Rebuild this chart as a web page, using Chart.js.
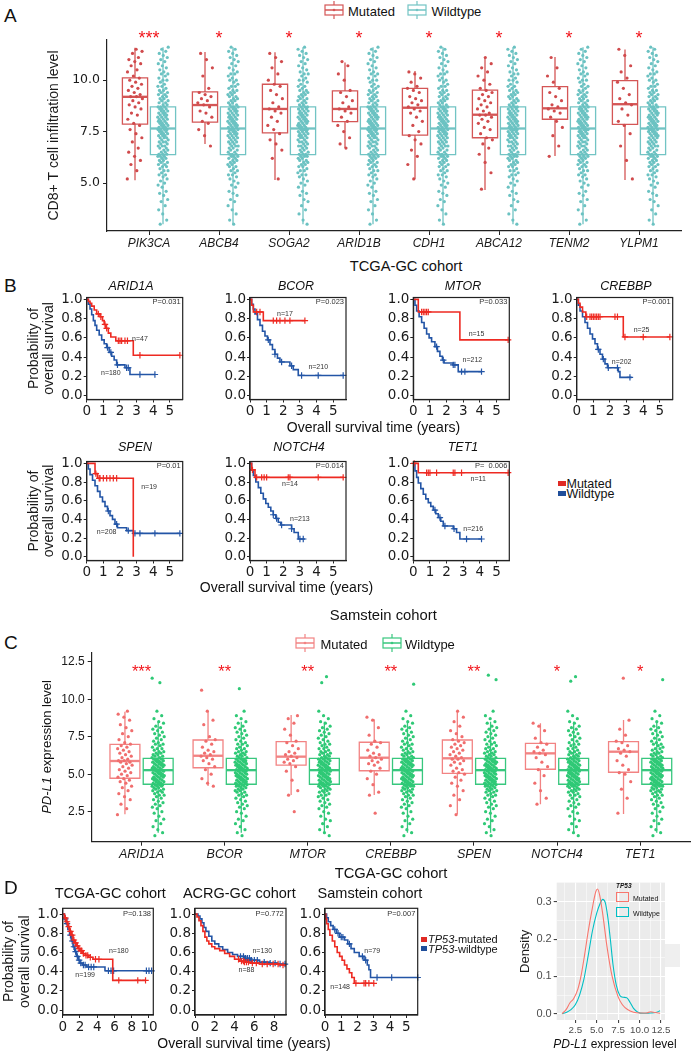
<!DOCTYPE html>
<html>
<head>
<meta charset="utf-8">
<script src="https://cdn.jsdelivr.net/npm/chart.js@4.4.1/dist/chart.umd.min.js"></script>
<style>
  body { margin: 0; background: #fff; }
  #fig { position: relative; width: 694px; height: 1052px; overflow: hidden; font-family: "Liberation Sans", Arial, sans-serif; color: #111; }
  .t { position: absolute; white-space: nowrap; line-height: 1; }
  canvas { position: absolute; }
</style>
</head>
<body>
<div id="fig"></div>
<script>
// ---------- panel A: CD8+ T cell infiltration, TCGA-GC ----------
const genesA = ['PIK3CA', 'ABCB4', 'SOGA2', 'ARID1B', 'CDH1', 'ABCA12', 'TENM2', 'YLPM1'];
const starsA = ['***', '*', '*', '*', '*', '*', '*', '*'];
// [lower whisker, Q1, median, Q3, upper whisker]
const boxA_mut = [
  [5.14, 7.86, 9.19, 10.11, 11.57], [6.9, 7.96, 8.79, 9.43, 11.37], [5.15, 7.44, 8.6, 9.8, 11.35],
  [6.7, 7.98, 8.6, 9.48, 10.86], [5.19, 7.33, 8.66, 9.6, 10.44], [4.66, 7.2, 8.32, 9.51, 11.13],
  [6.31, 8.1, 8.63, 9.68, 11.13], [5.15, 7.85, 8.83, 9.98, 11.49]
];
const boxA_wt = [3.0, 6.38, 7.65, 8.7, 11.6];
const ptsA_mut = [
  [5.2, 5.6, 5.9, 6.1, 6.3, 6.5, 6.7, 7.0, 7.2, 7.4, 7.6, 7.8, 7.9, 8.1, 8.3, 8.4, 8.6, 8.7, 8.8, 8.9, 9.0, 9.1, 9.2, 9.2, 9.3, 9.4, 9.5, 9.6, 9.7, 9.8, 9.9, 10.0, 10.1, 10.2, 10.4, 10.5, 10.7, 10.8, 10.9, 11.0, 11.1, 11.3, 11.4, 11.5],
  [6.8, 7.3, 7.6, 7.9, 8.0, 8.2, 8.4, 8.5, 8.7, 8.8, 8.9, 9.0, 9.1, 9.2, 9.3, 9.4, 9.6, 10.2, 10.6, 11.0, 11.3],
  [5.2, 6.2, 6.6, 6.9, 7.1, 7.4, 7.6, 7.8, 8.0, 8.2, 8.4, 8.5, 8.6, 8.7, 8.9, 9.1, 9.3, 9.5, 9.7, 9.8, 10.0, 10.3, 10.6, 10.9, 11.1, 11.3],
  [6.7, 6.9, 7.2, 7.5, 7.8, 8.0, 8.2, 8.4, 8.5, 8.6, 8.7, 8.9, 9.0, 9.2, 9.4, 9.5, 10.0, 10.3, 10.7, 10.9],
  [5.2, 5.9, 6.3, 6.6, 6.9, 7.1, 7.3, 7.5, 7.8, 8.0, 8.2, 8.4, 8.5, 8.6, 8.7, 8.8, 8.9, 9.0, 9.1, 9.2, 9.4, 9.5, 9.6, 9.7, 9.9, 10.1, 10.3, 10.4],
  [4.7, 5.5, 6.0, 6.4, 6.7, 6.9, 7.1, 7.2, 7.4, 7.6, 7.7, 7.9, 8.0, 8.1, 8.2, 8.3, 8.3, 8.4, 8.5, 8.6, 8.7, 8.8, 8.9, 9.0, 9.1, 9.2, 9.3, 9.4, 9.5, 9.6, 9.8, 10.0, 10.2, 10.4, 10.6, 10.8, 11.1],
  [6.3, 6.8, 7.3, 7.7, 8.0, 8.2, 8.4, 8.5, 8.6, 8.7, 8.8, 9.0, 9.2, 9.4, 9.6, 9.9, 10.2, 10.6, 11.1],
  [5.2, 6.1, 6.8, 7.4, 7.8, 8.0, 8.3, 8.6, 8.8, 8.9, 9.1, 9.3, 9.6, 9.9, 10.1, 10.4, 10.7, 11.2, 11.5]
];
// wildtype group is nearly the whole cohort for every gene, read once
const ptsA_wt = [
  3.0, 3.2, 3.5, 3.7, 3.9, 4.1, 4.2, 4.4, 4.5, 4.6, 4.8, 4.9, 5.0, 5.1, 5.2, 5.3, 5.4, 5.4, 5.5, 5.6, 5.6, 5.7, 5.8, 5.8, 5.9, 5.9, 6.0, 6.0, 6.1, 6.1, 6.2, 6.2, 6.3, 6.3, 6.3, 6.4, 6.4, 6.4,
  6.5, 6.5, 6.6, 6.6, 6.7, 6.7, 6.8, 6.8, 6.8, 6.9, 6.9, 7.0, 7.0, 7.0, 7.1, 7.1, 7.2, 7.2, 7.2, 7.3, 7.3, 7.3, 7.4, 7.4, 7.4, 7.5, 7.5, 7.5, 7.6, 7.6, 7.6, 7.6, 7.7, 7.7,
  7.7, 7.8, 7.8, 7.8, 7.9, 7.9, 7.9, 8.0, 8.0, 8.0, 8.1, 8.1, 8.1, 8.2, 8.2, 8.2, 8.3, 8.3, 8.3, 8.4, 8.4, 8.4, 8.5, 8.5, 8.5, 8.6, 8.6, 8.6, 8.7, 8.7, 8.7,
  8.8, 8.8, 8.9, 8.9, 9.0, 9.0, 9.1, 9.1, 9.2, 9.2, 9.3, 9.3, 9.4, 9.4, 9.5, 9.5, 9.6, 9.7, 9.7, 9.8, 9.9, 10.0, 10.0, 10.1, 10.2, 10.3, 10.3, 10.4, 10.5, 10.6, 10.7, 10.8, 10.9, 11.0, 11.1, 11.2, 11.3, 11.4, 11.5, 11.6
];

// ---------- panel C: PD-L1 expression, TCGA-GC ----------
const genesC = ['ARID1A', 'BCOR', 'MTOR', 'CREBBP', 'SPEN', 'NOTCH4', 'TET1'];
const starsC = ['***', '**', '**', '**', '**', '*', '*'];
const boxC_mut = [
  [2.33, 4.73, 5.88, 6.99, 9.17], [4.21, 5.43, 6.23, 7.28, 9.23], [3.61, 5.61, 6.17, 7.17, 8.95],
  [3.61, 5.23, 6.1, 7.13, 8.66], [2.33, 5.06, 6.06, 7.28, 9.23], [2.99, 5.33, 6.39, 7.06, 8.4],
  [2.35, 5.13, 6.5, 7.17, 8.61]
];
const boxC_wt = [1.1, 4.33, 5.27, 6.06, 8.5];
const ptsC_mut = [
  [2.3, 2.7, 3.0, 3.3, 3.5, 3.7, 3.9, 4.1, 4.2, 4.4, 4.5, 4.6, 4.7, 4.8, 4.9, 5.0, 5.1, 5.2, 5.3, 5.4, 5.5, 5.6, 5.7, 5.8, 5.8, 5.9, 5.9, 6.0, 6.1, 6.2, 6.3, 6.4, 6.5, 6.6, 6.7, 6.8, 6.9, 7.0, 7.1, 7.3, 7.5, 7.7, 7.9, 8.1, 8.3, 8.6, 8.8, 9.0, 9.2],
  [4.2, 4.4, 4.7, 5.0, 5.3, 5.5, 5.7, 5.9, 6.0, 6.1, 6.2, 6.3, 6.4, 6.5, 6.6, 6.8, 7.0, 7.2, 7.3, 7.5, 8.3, 8.6, 9.2, 10.6],
  [2.5, 3.6, 3.9, 4.6, 5.2, 5.5, 5.7, 5.8, 5.9, 6.0, 6.1, 6.2, 6.3, 6.4, 6.5, 6.7, 6.9, 7.1, 7.2, 7.6, 8.0, 8.4, 8.7, 8.9],
  [2.4, 3.6, 3.8, 4.3, 4.7, 5.0, 5.2, 5.4, 5.6, 5.7, 5.8, 5.9, 6.0, 6.1, 6.2, 6.3, 6.4, 6.6, 6.8, 7.0, 7.1, 7.2, 7.6, 8.1, 8.6, 8.8],
  [2.3, 2.9, 3.3, 3.6, 3.9, 4.2, 4.4, 4.6, 4.8, 5.0, 5.1, 5.2, 5.3, 5.4, 5.6, 5.7, 5.8, 5.9, 6.0, 6.0, 6.1, 6.2, 6.3, 6.4, 6.5, 6.6, 6.7, 6.8, 6.9, 7.0, 7.1, 7.2, 7.3, 7.5, 7.7, 7.9, 8.2, 8.5, 8.8, 9.2],
  [3.0, 3.4, 3.9, 4.4, 4.9, 5.3, 5.5, 5.8, 6.1, 6.3, 6.4, 6.5, 6.6, 6.8, 7.0, 7.1, 7.4, 7.9, 8.2, 8.4],
  [2.4, 3.4, 4.0, 4.5, 5.0, 5.1, 5.3, 5.6, 5.9, 6.2, 6.4, 6.5, 6.6, 6.7, 6.9, 7.1, 7.2, 7.6, 8.0, 8.6, 11.4]
];
const ptsC_wt = [
  0.9, 1.1, 1.3, 1.5, 1.7, 1.9, 2.0, 2.2, 2.4, 2.5, 2.7, 2.8, 2.9, 3.0, 3.1, 3.2, 3.3, 3.4, 3.5, 3.6, 3.6, 3.7, 3.8, 3.8, 3.9, 3.9, 4.0, 4.0, 4.1, 4.1, 4.2, 4.2, 4.2, 4.3, 4.3, 4.3,
  4.4, 4.4, 4.4, 4.5, 4.5, 4.5, 4.6, 4.6, 4.6, 4.7, 4.7, 4.7, 4.8, 4.8, 4.8, 4.9, 4.9, 4.9, 5.0, 5.0, 5.0, 5.1, 5.1, 5.1, 5.2, 5.2, 5.2, 5.3, 5.3,
  5.3, 5.4, 5.4, 5.4, 5.5, 5.5, 5.5, 5.6, 5.6, 5.6, 5.7, 5.7, 5.7, 5.8, 5.8, 5.8, 5.9, 5.9, 5.9, 6.0, 6.0, 6.0, 6.1,
  6.1, 6.2, 6.2, 6.3, 6.3, 6.4, 6.4, 6.5, 6.5, 6.6, 6.7, 6.7, 6.8, 6.9, 7.0, 7.0, 7.1, 7.2, 7.3, 7.4, 7.5, 7.6, 7.7, 7.8, 7.9, 8.0, 8.1, 8.2, 8.4, 8.5, 8.7, 8.9, 9.2
];
const ptsC_wtHigh = [[11.4, 11.1], [10.7], [11.5, 11.1], [11.0], [11.6, 11.3], [11.5, 11.2], [11.3]];

// ---------- panel B: Kaplan-Meier, TCGA-GC / Samstein ([time, survival] steps, censor times) ----------
const arid1aMut = [[0, 1], [0.1, 0.98], [0.2, 0.96], [0.3, 0.93], [0.45, 0.89], [0.6, 0.85], [0.8, 0.82], [0.95, 0.78], [1.05, 0.74], [1.15, 0.7], [1.3, 0.65], [1.45, 0.61], [1.75, 0.57], [2.8, 0.42], [5.6, 0.42]];
const arid1aMutCens = [0.7, 0.85, 1.1, 1.2, 1.9, 2.0, 2.1, 2.3, 2.45, 3.2, 5.6];
const arid1aWt = [[0, 1], [0.1, 0.95], [0.2, 0.9], [0.3, 0.84], [0.4, 0.78], [0.5, 0.73], [0.6, 0.68], [0.75, 0.63], [0.9, 0.58], [1.05, 0.54], [1.2, 0.5], [1.35, 0.45], [1.5, 0.41], [1.65, 0.37], [1.8, 0.32], [2.3, 0.29], [2.6, 0.22], [4.1, 0.22]];
const arid1aWtCens = [1.25, 1.45, 1.85, 2.4, 2.5, 3.2, 4.1];
const bcorMut = [[0, 1], [0.1, 0.94], [0.2, 0.87], [0.8, 0.78], [3.3, 0.78]];
const bcorMutCens = [0.4, 0.6, 1.4, 1.6, 1.8, 2.1, 2.4, 3.3];
const bcorWt = [[0, 1], [0.1, 0.95], [0.2, 0.9], [0.3, 0.85], [0.45, 0.79], [0.6, 0.73], [0.75, 0.67], [0.9, 0.62], [1.05, 0.58], [1.2, 0.53], [1.35, 0.48], [1.5, 0.43], [1.65, 0.39], [1.8, 0.35], [2.4, 0.31], [2.6, 0.27], [2.9, 0.21], [5.6, 0.21]];
const bcorWtCens = [1.1, 1.5, 1.9, 2.5, 3.1, 4.1, 5.6];
const mtorMut = [[0, 1], [0.3, 0.87], [2.8, 0.58], [5.7, 0.58]];
const mtorMutCens = [0.5, 0.6, 0.7, 0.8, 0.9, 5.7];
const mtorWt = [[0, 1], [0.1, 0.94], [0.2, 0.88], [0.35, 0.82], [0.5, 0.76], [0.65, 0.7], [0.8, 0.64], [0.95, 0.6], [1.1, 0.56], [1.3, 0.51], [1.45, 0.46], [1.6, 0.41], [1.75, 0.37], [1.85, 0.34], [2.4, 0.32], [2.7, 0.25], [4.1, 0.25]];
const mtorWtCens = [1.4, 1.8, 2.4, 2.5, 2.9, 3.1, 4.1];
const crebbpMut = [[0, 1], [0.1, 0.96], [0.2, 0.92], [0.35, 0.87], [0.55, 0.82], [2.8, 0.61], [5.6, 0.61]];
const crebbpMutCens = [0.6, 0.8, 0.9, 1.0, 1.1, 1.2, 1.3, 1.4, 2.3, 2.45, 2.9, 4.0, 5.6];
const crebbpWt = [[0, 1], [0.1, 0.94], [0.2, 0.88], [0.35, 0.82], [0.5, 0.76], [0.65, 0.7], [0.8, 0.64], [0.95, 0.59], [1.1, 0.54], [1.25, 0.48], [1.4, 0.43], [1.55, 0.38], [1.7, 0.33], [1.85, 0.29], [2.5, 0.25], [2.6, 0.19], [3.3, 0.19]];
const crebbpWtCens = [1.3, 1.6, 1.9, 2.45, 3.2];
const spenMut = [[0, 1], [0.5, 0.89], [0.65, 0.84], [2.8, 0]];
const spenMutCens = [0.55, 0.75, 0.8, 1.0, 1.2, 1.4, 1.6, 1.8];
const spenWt = [[0, 1], [0.1, 0.94], [0.2, 0.88], [0.35, 0.82], [0.5, 0.76], [0.65, 0.7], [0.8, 0.64], [0.95, 0.59], [1.1, 0.54], [1.25, 0.49], [1.4, 0.44], [1.55, 0.4], [1.7, 0.35], [1.85, 0.31], [2.4, 0.28], [2.8, 0.25], [5.6, 0.25]];
const spenWtCens = [1.3, 1.8, 2.5, 2.9, 3.2, 4.1, 5.6];
const notch4Mut = [[0, 1], [0.1, 0.93], [0.3, 0.85], [5.6, 0.85]];
const notch4MutCens = [0.15, 0.4, 0.7, 0.85, 1.0, 2.3, 2.4, 4.1, 5.6];
const notch4Wt = [[0, 1], [0.1, 0.93], [0.2, 0.87], [0.35, 0.8], [0.5, 0.74], [0.65, 0.68], [0.8, 0.62], [0.95, 0.57], [1.1, 0.53], [1.25, 0.49], [1.4, 0.45], [1.55, 0.41], [1.7, 0.37], [1.85, 0.34], [2.5, 0.3], [2.65, 0.26], [2.9, 0.19], [3.3, 0.19]];
const notch4WtCens = [1.4, 1.6, 1.9, 2.5, 3.0, 3.2];
const tet1Mut = [[0, 1], [0.3, 0.9], [5.7, 0.9]];
const tet1MutCens = [0.05, 0.8, 0.9, 1.0, 1.4, 2.4, 2.5, 2.9, 5.7];
const tet1Wt = [[0, 1], [0.1, 0.92], [0.2, 0.85], [0.3, 0.79], [0.45, 0.73], [0.6, 0.67], [0.75, 0.62], [0.9, 0.58], [1.05, 0.54], [1.2, 0.5], [1.35, 0.46], [1.5, 0.42], [1.65, 0.38], [1.8, 0.33], [2.4, 0.3], [2.6, 0.26], [2.8, 0.19], [4.1, 0.19]];
const tet1WtCens = [1.3, 1.6, 1.9, 2.45, 3.2, 4.1];

// ---------- panel D: TP53 Kaplan-Meier ----------
const tcgaMut = [[0, 1], [0.2, 0.96], [0.4, 0.92], [0.6, 0.87], [0.8, 0.82], [1.0, 0.78], [1.2, 0.73], [1.4, 0.7], [1.6, 0.67], [1.8, 0.64], [2.0, 0.62], [2.3, 0.59], [2.6, 0.57], [3.0, 0.55], [3.5, 0.53], [5.8, 0.31], [9.6, 0.31]];
const tcgaMutCens = [0.3, 0.5, 0.7, 0.9, 1.1, 1.3, 1.5, 1.7, 1.9, 2.1, 2.2, 2.4, 2.7, 2.9, 3.2, 3.8, 4.2, 6.5, 8.7, 9.6];
const tcgaWt = [[0, 1], [0.2, 0.95], [0.4, 0.9], [0.6, 0.84], [0.8, 0.78], [1.0, 0.72], [1.2, 0.66], [1.4, 0.61], [1.6, 0.56], [1.8, 0.52], [2.0, 0.49], [2.3, 0.47], [2.8, 0.45], [4.9, 0.41], [10.3, 0.41]];
const tcgaWtCens = [0.3, 0.5, 0.9, 1.1, 1.3, 1.5, 1.7, 1.9, 2.1, 2.4, 2.6, 3.0, 3.3, 3.6, 5.3, 5.6, 5.9, 9.7, 10.0, 10.3];
const acrgMut = [[0, 1], [0.2, 0.97], [0.4, 0.93], [0.6, 0.88], [0.8, 0.82], [1.0, 0.76], [1.2, 0.72], [1.4, 0.69], [1.7, 0.66], [2.0, 0.64], [2.5, 0.62], [3.0, 0.59], [3.5, 0.56], [4.0, 0.53], [4.5, 0.51], [5.0, 0.5], [5.6, 0.49], [6.5, 0.48], [8.5, 0.47], [9.2, 0.47]];
const acrgMutCens = [4.4, 4.7, 4.9, 5.0, 5.2, 5.4, 5.8, 6.2, 6.8, 7.3, 7.9, 8.4, 8.9];
const acrgWt = [[0, 1], [0.3, 0.98], [0.5, 0.95], [0.7, 0.91], [0.9, 0.86], [1.1, 0.82], [1.4, 0.77], [1.7, 0.72], [2.0, 0.69], [2.4, 0.66], [2.8, 0.63], [3.3, 0.6], [3.8, 0.58], [4.3, 0.56], [5.0, 0.54], [5.6, 0.52], [6.5, 0.5], [7.5, 0.49], [8.3, 0.48], [9.2, 0.48]];
const acrgWtCens = [4.6, 4.9, 5.1, 5.3, 5.5, 5.7, 6.0, 6.3, 7.0, 7.6, 8.1, 8.6, 9.1];
const samsMut = [[0, 1], [0.05, 0.95], [0.1, 0.9], [0.2, 0.84], [0.3, 0.78], [0.45, 0.72], [0.6, 0.66], [0.75, 0.6], [0.9, 0.56], [1.05, 0.52], [1.2, 0.47], [1.35, 0.43], [1.5, 0.39], [1.65, 0.34], [1.8, 0.28], [3.0, 0.28]];
const samsMutCens = [1.9, 2.4, 2.5, 2.7, 3.0];
const samsWt = [[0, 1], [0.1, 0.96], [0.2, 0.92], [0.35, 0.88], [0.5, 0.84], [0.7, 0.8], [0.9, 0.76], [1.2, 0.73], [1.4, 0.69], [1.6, 0.64], [1.8, 0.6], [2.1, 0.56], [2.4, 0.52], [2.6, 0.47], [2.7, 0.42], [2.8, 0.34], [5.7, 0.34]];
const samsWtCens = [0.6, 0.8, 1.0, 1.1, 1.5, 2.3, 2.5, 3.2, 4.1, 5.7];

// ---------- density of PD-L1 by TP53 status ([expression, density]) ----------
const densMut = [[0.95, 0], [1.4, 0.01], [1.9, 0.03], [2.3, 0.04], [2.8, 0.066], [3.2, 0.105], [3.6, 0.16], [4.0, 0.22], [4.5, 0.285], [4.9, 0.328], [5.1, 0.335], [5.35, 0.318], [5.7, 0.268], [6.2, 0.18], [6.8, 0.1], [7.5, 0.045], [8.0, 0.024], [8.6, 0.011], [9.3, 0.004], [10.0, 0.002], [10.8, 0.002], [11.3, 0.005], [11.8, 0.003], [12.4, 0.001]];
const densWt = [[0.95, 0], [1.5, 0.004], [2.0, 0.011], [2.5, 0.024], [3.0, 0.05], [3.5, 0.092], [4.0, 0.155], [4.5, 0.222], [5.0, 0.27], [5.4, 0.296], [5.7, 0.307], [6.0, 0.298], [6.3, 0.258], [6.6, 0.198], [6.9, 0.132], [7.3, 0.075], [7.7, 0.049], [8.1, 0.044], [8.5, 0.043], [8.9, 0.03], [9.3, 0.014], [9.8, 0.004], [10.5, 0.001], [11.3, 0.002], [11.9, 0.003], [12.4, 0.008]];

// ---------- colours ----------
const redA = '#D45656', tealA = '#72C4C4';
const pinkC = '#F28383', greenC = '#38C77E';
const kmRed = '#EE2A22', kmBlue = '#2355A6';
const starRed = '#F2161C';

Chart.defaults.font.family = '"Liberation Sans", Arial, sans-serif';
Chart.defaults.color = '#1a1a1a';
Chart.defaults.animation = false;
Chart.defaults.events = [];
Chart.defaults.plugins.legend.display = false;
Chart.defaults.plugins.tooltip.enabled = false;

const fig = document.getElementById('fig');

function txt(html, x, y, size, o = {}) {
  const d = document.createElement('div');
  d.className = 't';
  d.innerHTML = html;
  d.style.fontSize = size + 'px';
  d.style.left = x + 'px';
  d.style.top = y + 'px';
  const ax = o.left ? '0' : '-50%';
  d.style.transform = 'translate(' + ax + ',-50%)' + (o.rot ? ' rotate(-90deg)' : '');
  if (o.color) d.style.color = o.color;
  if (o.italic) d.style.fontStyle = 'italic';
  if (o.weight) d.style.fontWeight = o.weight;
  fig.appendChild(d);
}

function rect(x, y, w, h, style) {
  const d = document.createElement('div');
  d.style.cssText = 'position:absolute;left:' + x + 'px;top:' + y + 'px;width:' + w + 'px;height:' + h + 'px;' + style;
  fig.appendChild(d);
}

function boxKey(x, y, color) {
  const d = document.createElement('div');
  d.style.cssText = 'position:absolute;left:' + x + 'px;top:' + (y - 9) + 'px;width:20px;height:18px';
  d.innerHTML = '<svg width="20" height="18"><line x1="10" y1="0" x2="10" y2="18" stroke="' + color + '" stroke-width="1.2"/>' +
    '<rect x="1" y="4" width="18" height="10" fill="#fff" stroke="' + color + '" stroke-width="1.2"/>' +
    '<line x1="1" y1="9" x2="19" y2="9" stroke="' + color + '" stroke-width="1.5"/><circle cx="10" cy="9" r="1.3" fill="' + color + '"/></svg>';
  fig.appendChild(d);
}

// canvas placed so that the chart area lands on plot box [l, t, r, b]
function frameFor(box, yw, padT, padR, xh) {
  const cl = Math.round(box[0] - yw), ct = Math.round(box[1] - padT);
  const cw = Math.round(box[2] + padR) - cl, chh = Math.round(box[3] + xh) - ct;
  const c = document.createElement('canvas');
  c.width = cw; c.height = chh;
  c.style.left = cl + 'px'; c.style.top = ct + 'px';
  c.style.width = cw + 'px'; c.style.height = chh + 'px';
  fig.appendChild(c);
  return { canvas: c, left: cl, yw: box[0] - cl, padT: box[1] - ct, padR: cl + cw - box[2], xh: ct + chh - box[3] };
}

const setTicks = vals => scale => { scale.ticks = vals.map(v => ({ value: v })); };

function axis(font, tl, pad, ticks, cb) {
  return {
    type: 'linear',
    grid: { display: true, drawOnChartArea: false, drawTicks: true, tickLength: tl, color: '#222' },
    border: { display: true, color: '#222', width: 1.2 },
    ticks: { font, color: '#1a1a1a', padding: pad, autoSkip: false, maxRotation: 0, callback: cb },
    afterBuildTicks: setTicks(ticks)
  };
}

const jit = (j, k) => (((j + k) * 0.618034) % 1) * 2 - 1;

function boxPlugin(groups, half, lw, stars, starFont, starY) {
  return {
    id: 'boxes',
    beforeDatasetsDraw(chart) {
      const { ctx, scales: { x, y } } = chart;
      ctx.save();
      groups.forEach(g => {
        g.stats.forEach((s, i) => {
          const cx = x.getPixelForValue(i + 1 + g.shift);
          const hw = x.getPixelForValue(i + 1 + g.shift + half) - cx;
          const [lo, q1, md, q3, hi] = s.map(v => y.getPixelForValue(v));
          ctx.strokeStyle = g.color;
          ctx.lineWidth = lw;
          ctx.beginPath();
          ctx.moveTo(cx, lo); ctx.lineTo(cx, q1);
          ctx.moveTo(cx, q3); ctx.lineTo(cx, hi);
          ctx.rect(cx - hw, q3, 2 * hw, q1 - q3);
          ctx.stroke();
          ctx.lineWidth = lw * 1.8;
          ctx.beginPath(); ctx.moveTo(cx - hw, md); ctx.lineTo(cx + hw, md); ctx.stroke();
        });
      });
      ctx.fillStyle = starRed;
      ctx.font = starFont;
      ctx.textAlign = 'center';
      ctx.textBaseline = 'alphabetic';
      stars.forEach((s, i) => ctx.fillText(s, x.getPixelForValue(i + 1), y.getPixelForValue(starY)));
      ctx.restore();
    }
  };
}

function boxChart(o) {
  const f = frameFor(o.box, o.yw, 16, o.padR, 22);
  const datasets = [
    { data: o.genes.flatMap((g, i) => o.mutPts[i].map((v, j) => ({ x: i + 1 - o.shift + jit(j, i * 3) * o.mutSpread, y: v }))), backgroundColor: o.mutDot, pointRadius: 1.6, borderWidth: 0 },
    { data: o.genes.flatMap((g, i) => o.wtPts.concat(o.wtHigh ? o.wtHigh[i] : []).map((v, j) => ({ x: i + 1 + o.shift + jit(j, i * 7 + 2) * o.wtSpread, y: v }))), backgroundColor: o.wtDot, pointRadius: 1.6, borderWidth: 0 }
  ];
  const xs = axis({ size: o.xFont, style: 'italic' }, 4, 1, o.genes.map((g, i) => i + 1), v => o.genes[v - 1]);
  xs.min = 0.4; xs.max = o.genes.length + 0.6;
  xs.afterFit = s => { s.height = f.xh; };
  const ys = axis(o.yFont, 4, 3, o.yTicks, v => v.toFixed(1));
  ys.min = o.yRange[0]; ys.max = o.yRange[1];
  ys.afterFit = s => { s.width = f.yw; };
  if (o.yTitle) ys.title = { display: true, text: o.yTitle, font: { size: 14, lineHeight: 1.1 }, color: '#1a1a1a', padding: { top: o.yTitleX - f.left - 7.7, bottom: 0 } };
  new Chart(f.canvas, {
    type: 'scatter',
    data: { datasets },
    options: {
      responsive: false, devicePixelRatio: 1,
      layout: { padding: { top: f.padT, right: f.padR, left: 0, bottom: 0 } },
      scales: { x: xs, y: ys }
    },
    plugins: [boxPlugin([{ stats: o.mutBox, shift: -o.shift, color: o.mutCol }, { stats: o.genes.map(() => o.wtBox), shift: o.shift, color: o.wtCol }], 0.18, 1.3, o.stars, o.starFont, o.starY)]
  });
}

// ---- Kaplan-Meier ----
function survAt(steps, t) {
  let s = steps[0][1];
  steps.forEach(p => { if (p[0] <= t) s = p[1]; });
  return s;
}

const framePlugin = {
  id: 'frame',
  afterDatasetsDraw(chart) {
    const a = chart.chartArea, ctx = chart.ctx;
    ctx.save();
    ctx.strokeStyle = '#222'; ctx.lineWidth = 1.2;
    ctx.strokeRect(a.left, a.top, a.right - a.left, a.bottom - a.top);
    ctx.restore();
  }
};

function notesPlugin(notes) {
  return {
    id: 'notes',
    afterDatasetsDraw(chart) {
      const { ctx, scales: { x, y } } = chart;
      ctx.save();
      ctx.fillStyle = '#333';
      ctx.textBaseline = 'middle';
      notes.forEach(n => {
        ctx.font = n.size + 'px "Liberation Sans", Arial';
        ctx.textAlign = n.align || 'center';
        ctx.fillText(n.text, x.getPixelForValue(n.x), y.getPixelForValue(n.y));
      });
      ctx.restore();
    }
  };
}

function kmChart(o) {
  const f = frameFor(o.box, o.yTitleX != null ? o.box[0] : 40, 12, 10, 22);
  const datasets = [];
  o.curves.forEach(cv => {
    datasets.push({ data: cv.steps.map(p => ({ x: p[0], y: p[1] })), stepped: 'before', borderColor: cv.color, borderWidth: 1.6, pointRadius: 0, fill: false });
    datasets.push({ data: cv.cens.map(t => ({ x: t, y: survAt(cv.steps, t) })), showLine: false, pointStyle: 'cross', pointRadius: 3.2, borderColor: cv.color, borderWidth: 1.2, clip: 6 });
  });
  const tickFont = { family: '"DejaVu Sans", sans-serif', size: 13.5 };
  const xs = axis(tickFont, 3, 1, o.xTicks, v => String(v));
  xs.min = 0; xs.max = o.xmax;
  xs.afterFit = s => { s.height = f.xh; };
  const ys = axis(tickFont, 3, 1, [0, 0.2, 0.4, 0.6, 0.8, 1], v => v.toFixed(1));
  ys.min = o.yRange[0]; ys.max = o.yRange[1];
  ys.afterFit = s => { s.width = f.yw; };
  if (o.yTitleX != null) ys.title = { display: true, text: ['Probability of', 'overall survival'], font: { size: 14, lineHeight: 1.1 }, color: '#1a1a1a', padding: { top: o.yTitleX - f.left - 7.7, bottom: 0 } };
  new Chart(f.canvas, {
    type: 'line',
    data: { datasets },
    options: {
      responsive: false, devicePixelRatio: 1,
      layout: { padding: { top: f.padT, right: f.padR, left: 0, bottom: 0 } },
      scales: { x: xs, y: ys }
    },
    plugins: [framePlugin, notesPlugin(o.notes)]
  });
}

// ================= panel A =================
txt('A', 4, 14.5, 19, { left: true });
boxKey(324, 10, redA); txt('Mutated', 348, 10.5, 13, { left: true });
boxKey(407, 10, tealA); txt('Wildtype', 431.5, 10.5, 13, { left: true });
boxChart({
  box: [107, 40, 681, 231], yw: 107, padR: 13, genes: genesA, stars: starsA,
  mutBox: boxA_mut, wtBox: boxA_wt, mutPts: ptsA_mut, wtPts: ptsA_wt,
  mutCol: redA, wtCol: tealA, mutDot: '#D04A4C', wtDot: '#6BC2C2', shift: 0.2, mutSpread: 0.11, wtSpread: 0.075,
  yRange: [2.67, 11.95], yTicks: [5, 7.5, 10], yFont: { family: '"DejaVu Sans", sans-serif', size: 12.5 }, xFont: 12,
  yTitle: 'CD8+ T cell infiltration level', yTitleX: 54,
  starFont: '18px "Liberation Sans", Arial', starY: 11.75
});
txt('TCGA-GC cohort', 406, 266, 14.7);

// ================= panel B =================
txt('B', 4, 285, 19, { left: true });
const kmB = [
  { title: 'ARID1A', tx: 131, ty: 286, box: [86.7, 297.5, 182.7, 399.5], mut: arid1aMut, mc: arid1aMutCens, wt: arid1aWt, wc: arid1aWtCens, p: 'P=0.031', n1: [3.2, 0.59, 'n=47'], n2: [1.45, 0.23, 'n=180'], yTitleX: 34 },
  { title: 'BCOR', tx: 296, ty: 286, box: [250, 297.5, 346, 399.5], mut: bcorMut, mc: bcorMutCens, wt: bcorWt, wc: bcorWtCens, p: 'P=0.023', n1: [2.1, 0.85, 'n=17'], n2: [4.1, 0.3, 'n=210'] },
  { title: 'MTOR', tx: 463, ty: 286, box: [413.3, 297.5, 509.3, 399.5], mut: mtorMut, mc: mtorMutCens, wt: mtorWt, wc: mtorWtCens, p: 'P=0.033', n1: [3.8, 0.64, 'n=15'], n2: [3.55, 0.375, 'n=212'] },
  { title: 'CREBBP', tx: 626, ty: 286, box: [576.7, 297.5, 672.7, 399.5], mut: crebbpMut, mc: crebbpMutCens, wt: crebbpWt, wc: crebbpWtCens, p: 'P=0.001', n1: [3.9, 0.68, 'n=25'], n2: [2.7, 0.35, 'n=202'] },
  { title: 'SPEN', tx: 135, ty: 447, box: [86.7, 461.5, 182.7, 560.5], mut: spenMut, mc: spenMutCens, wt: spenWt, wc: spenWtCens, p: 'P=0.01', n1: [3.75, 0.75, 'n=19'], n2: [1.2, 0.26, 'n=208'], yTitleX: 34 },
  { title: 'NOTCH4', tx: 299, ty: 447, box: [250, 461.5, 346, 560.5], mut: notch4Mut, mc: notch4MutCens, wt: notch4Wt, wc: notch4WtCens, p: 'P=0.014', n1: [2.4, 0.775, 'n=14'], n2: [3.0, 0.4, 'n=213'] },
  { title: 'TET1', tx: 463, ty: 447, box: [413.3, 461.5, 509.3, 560.5], mut: tet1Mut, mc: tet1MutCens, wt: tet1Wt, wc: tet1WtCens, p: 'P=  0.006', n1: [3.9, 0.83, 'n=11'], n2: [3.6, 0.3, 'n=216'] }
];
kmB.forEach(k => {
  kmChart({
    box: k.box, xmax: 5.77, xTicks: [0, 1, 2, 3, 4, 5], yRange: [-0.04, 1.02], yTitleX: k.yTitleX,
    curves: [{ steps: k.mut, cens: k.mc, color: kmRed }, { steps: k.wt, cens: k.wc, color: kmBlue }],
    notes: [
      { text: k.p, x: 5.65, y: 0.975, size: 7.5, align: 'right' },
      { text: k.n1[2], x: k.n1[0], y: k.n1[1], size: 7 },
      { text: k.n2[2], x: k.n2[0], y: k.n2[1], size: 7 }
    ]
  });
  txt(k.title, k.tx, k.ty, 12.5, { italic: true });
});
txt('Overall survival time (years)', 373.5, 427, 14);
txt('Overall survival time (years)', 286.5, 587, 14);
rect(558.3, 481, 7.4, 4.8, 'background:#E02A24');
txt('Mutated', 566.5, 483.5, 12.5, { left: true });
rect(558.3, 491, 7.4, 4.8, 'background:#1F4E9A');
txt('Wildtype', 566.5, 493.5, 12.5, { left: true });
txt('Samstein cohort', 383.3, 615.3, 14.8);

// ================= panel C =================
txt('C', 4, 641.5, 19, { left: true });
boxKey(295, 643, pinkC); txt('Mutated', 320.5, 643.5, 13, { left: true });
boxKey(381.7, 643, greenC); txt('Wildtype', 405, 643.5, 13, { left: true });
boxChart({
  box: [91.7, 653, 692, 841.7], yw: 91.7, padR: 2, genes: genesC, stars: starsC,
  mutBox: boxC_mut, wtBox: boxC_wt, mutPts: ptsC_mut, wtPts: ptsC_wt, wtHigh: ptsC_wtHigh,
  mutCol: pinkC, wtCol: greenC, mutDot: '#F06E6E', wtDot: '#2FC976', shift: 0.2, mutSpread: 0.09, wtSpread: 0.075,
  yRange: [0.5, 13.08], yTicks: [2.5, 5, 7.5, 10, 12.5], yFont: { size: 12 }, xFont: 12.5,
  starFont: '16.5px "Liberation Sans", Arial', starY: 11.48
});
txt('<i>PD-L1</i> expression level', 46, 747, 13, { rot: true });
txt('TCGA-GC cohort', 391, 873.3, 14.7);

// ================= panel D =================
txt('D', 4, 886.5, 19, { left: true });
const kmD = [
  { title: 'TCGA-GC cohort', tx: 110.3, box: [62.7, 908.3, 153.3, 1015], xmax: 10.5, xt: [0, 2, 4, 6, 8, 10], mut: tcgaMut, mc: tcgaMutCens, wt: tcgaWt, wc: tcgaWtCens, p: 'P=0.138', n1: [6.5, 0.61, 'n=180'], n2: [2.6, 0.37, 'n=199'], yTitleX: 9.5 },
  { title: 'ACRG-GC cohort', tx: 239.3, box: [195, 908.3, 286, 1015], xmax: 9.2, xt: [0, 2, 4, 6, 8], mut: acrgMut, mc: acrgMutCens, wt: acrgWt, wc: acrgWtCens, p: 'P=0.772', n1: [6.8, 0.61, 'n=130'], n2: [5.2, 0.42, 'n=88'] },
  { title: 'Samstein cohort', tx: 370, box: [325, 908.3, 417.7, 1015], xmax: 5.7, xt: [0, 1, 2, 3, 4, 5], mut: samsMut, mc: samsMutCens, wt: samsWt, wc: samsWtCens, p: 'P=0.007', n1: [2.9, 0.61, 'n=79'], n2: [0.93, 0.24, 'n=148'] }
];
kmD.forEach(k => {
  kmChart({
    box: k.box, xmax: k.xmax, xTicks: k.xt, yRange: [-0.05, 1.06], yTitleX: k.yTitleX,
    curves: [{ steps: k.mut, cens: k.mc, color: kmRed }, { steps: k.wt, cens: k.wc, color: kmBlue }],
    notes: [
      { text: k.p, x: k.xmax * 0.975, y: 1.0, size: 7.5, align: 'right' },
      { text: k.n1[2], x: k.n1[0], y: k.n1[1], size: 7 },
      { text: k.n2[2], x: k.n2[0], y: k.n2[1], size: 7 }
    ]
  });
  txt(k.title, k.tx, 893, 14.5);
});
txt('Overall survival time (years)', 244, 1043.3, 14);
rect(421, 937.3, 6.3, 4.6, 'background:#E02A24');
txt('<i>TP53</i>-mutated', 428, 939, 11, { left: true });
rect(421, 946, 6.3, 4.6, 'background:#1F4E9A');
txt('<i>TP53</i>-wildtype', 428, 948.5, 11, { left: true });

// ---- density plot ----
(function () {
  const f = frameFor([556.7, 882, 665, 1020], 40, 8, 12, 18);
  const minorX = [1.25, 3.75, 6.25, 8.75, 11.25], minorY = [0.05, 0.15, 0.25];
  const isMinor = (list, v) => list.some(m => Math.abs(m - v) < 1e-6);
  const gridOpts = list => ({
    display: true, drawOnChartArea: true, drawTicks: true, tickLength: 3,
    color: c => '#FFFFFF',
    lineWidth: c => (c.tick && isMinor(list, c.tick.value) ? 0.5 : 1.1),
    tickColor: c => (c.tick && isMinor(list, c.tick.value) ? 'rgba(0,0,0,0)' : '#444')
  });
  const bgPlugin = {
    id: 'panelBg',
    beforeDraw(chart) {
      const a = chart.chartArea, ctx = chart.ctx;
      ctx.save(); ctx.fillStyle = '#EBEBEB';
      ctx.fillRect(a.left, a.top, a.right - a.left, a.bottom - a.top);
      ctx.restore();
    }
  };
  new Chart(f.canvas, {
    type: 'line',
    data: {
      datasets: [
        { data: densMut.map(p => ({ x: p[0], y: p[1] })), borderColor: '#F8766D', borderWidth: 1.1, pointRadius: 0, cubicInterpolationMode: 'monotone', fill: false },
        { data: densWt.map(p => ({ x: p[0], y: p[1] })), borderColor: '#00BFC4', borderWidth: 1.1, pointRadius: 0, cubicInterpolationMode: 'monotone', fill: false }
      ]
    },
    options: {
      responsive: false, devicePixelRatio: 1,
      layout: { padding: { top: f.padT, right: f.padR, left: 0, bottom: 0 } },
      scales: {
        x: {
          type: 'linear', min: 0.33, max: 12.97, grid: gridOpts(minorX), border: { display: false },
          ticks: { font: { size: 9.8 }, color: '#4D4D4D', padding: 1, autoSkip: false, maxRotation: 0, callback: v => (isMinor(minorX, v) ? '' : v.toFixed(1)) },
          afterBuildTicks: setTicks([1.25, 2.5, 3.75, 5, 6.25, 7.5, 8.75, 10, 11.25, 12.5]),
          afterFit: s => { s.height = f.xh; }
        },
        y: {
          type: 'linear', min: -0.017, max: 0.352, grid: gridOpts(minorY), border: { display: false },
          ticks: { font: { size: 11 }, color: '#4D4D4D', padding: 2, autoSkip: false, callback: v => (isMinor(minorY, v) ? '' : v.toFixed(1)) },
          afterBuildTicks: setTicks([0, 0.05, 0.1, 0.15, 0.2, 0.25, 0.3]),
          afterFit: s => { s.width = f.yw; },
          title: { display: true, text: 'Density', font: { size: 13, lineHeight: 1.1 }, color: '#1a1a1a', padding: { top: 525 - f.left - 7.2, bottom: 0 } }
        }
      }
    },
    plugins: [bgPlugin]
  });
})();
txt('<i>TP53</i>', 616, 886, 6.5, { left: true, weight: 'bold' });
rect(616, 892, 13, 10, 'border:1px solid #F8766D;box-sizing:border-box');
txt('Mutated', 633, 897.5, 7, { left: true });
rect(616, 907, 13, 10, 'border:1px solid #00BFC4;box-sizing:border-box');
txt('Wildtype', 633, 912.5, 7, { left: true });
txt('<i>PD-L1</i> expression level', 615, 1044, 12);
rect(665, 944, 15, 23, 'background:#EFEFEF');
</script>
</body>
</html>
